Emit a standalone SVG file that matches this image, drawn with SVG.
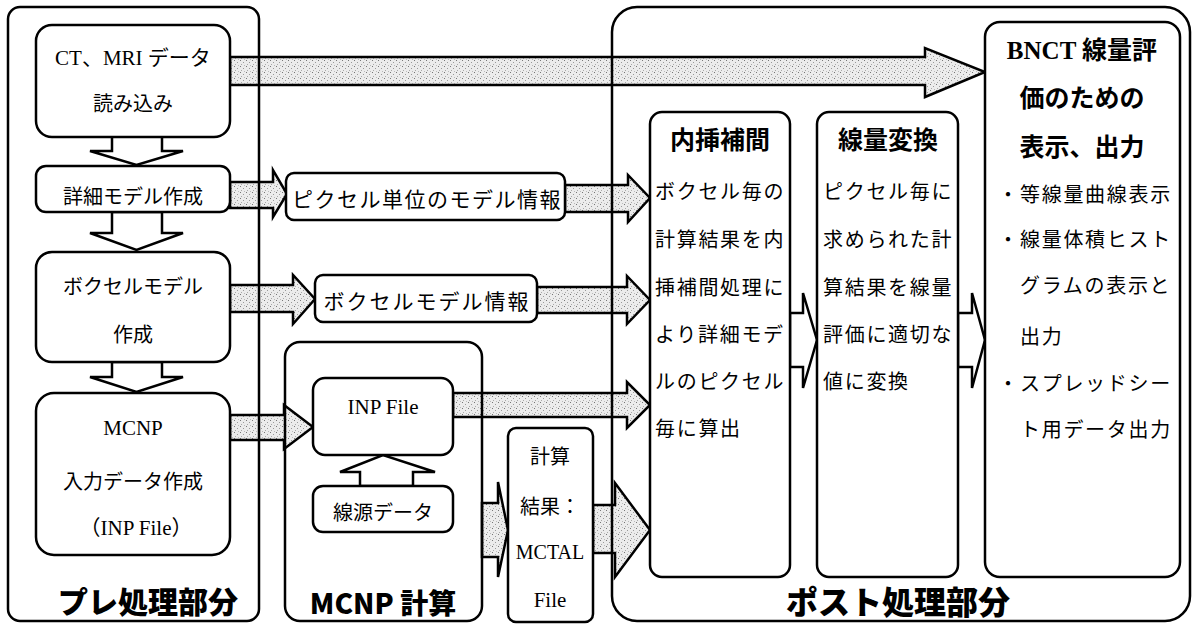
<svg xmlns="http://www.w3.org/2000/svg" width="1193" height="625" viewBox="0 0 1193 625">
<defs>
<pattern id="dots" width="6" height="6" patternUnits="userSpaceOnUse">
<rect width="6" height="6" fill="#ececec"/>
<rect x="0" y="0" width="1" height="1" fill="#777"/>
<rect x="3" y="2" width="1" height="1" fill="#999"/>
<rect x="1" y="4" width="1" height="1" fill="#aaa"/>
<rect x="4" y="5" width="1" height="1" fill="#bbb"/>
</pattern>
<style>
.box{fill:#fff;stroke:#000;stroke-width:2.5}
.grp{fill:none;stroke:#000;stroke-width:2.5}
.ga{fill:url(#dots);stroke:#000;stroke-width:2.5;stroke-linejoin:miter}
.wa{fill:#fff;stroke:#000;stroke-width:2.5;stroke-linejoin:miter}
.t{font-family:"Noto Sans CJK JP",sans-serif;font-size:20px;fill:#000;dominant-baseline:central}
.s{font-family:"Liberation Serif","Noto Sans CJK JP",serif;font-size:21px;fill:#000;dominant-baseline:central}
.c{text-anchor:middle}
.r{letter-spacing:1.7px}
.h{font-family:"Liberation Serif","Noto Sans CJK JP",serif;font-weight:bold;font-size:25px;fill:#000;dominant-baseline:central;text-anchor:middle}
.lbl{font-family:"Noto Sans CJK JP",sans-serif;font-weight:900;font-size:30px;fill:#000;text-anchor:middle;dominant-baseline:central}
</style>
</defs>
<rect width="1193" height="625" fill="#fff"/>

<g id="connectors">
<path class="ga" d="M230 57 H925 V48 L985 72 L925 97 V85 H230 Z"/>
<path class="ga" d="M230 182 H273 V170 L287 194 L273 217 V208 H230 Z"/>
<path class="ga" d="M565 185 H628 V175 L650 198 L628 222 V212 H565 Z"/>
<path class="ga" d="M230 285 H293 V275 L315 299 L293 324 V312 H230 Z"/>
<path class="ga" d="M537 287 H627 V276 L650 300 L627 324 V313 H537 Z"/>
<path class="ga" d="M230 415 H284 V405 L313 427 L284 449 V440 H230 Z"/>
<path class="ga" d="M453 393 H627 V382 L650 405 L627 428 V417 H453 Z"/>
<path class="ga" d="M482 503 H498 V482 L508 530 L498 577 V557 H482 Z"/>
<path class="ga" d="M593 505 H615 V483 L650 530 L615 577 V553 H593 Z"/>
<path class="wa" d="M112 136 V151 H90 L136.5 165 L183 151 H162 V136 Z"/>
<path class="wa" d="M112 212 V233 H90 L136.5 250 L183 233 H162 V212 Z"/>
<path class="wa" d="M112 362 V377 H90 L136.5 392 L183 377 H162 V362 Z"/>
<path class="wa" d="M360 486 V472 H340 L383 455 L435 472 H413 V486 Z"/>
<path class="wa" d="M790 313 H803 V293 L817 340 L803 388 V367 H790 Z"/>
<path class="wa" d="M958 313 H972 V293 L985 340 L972 388 V367 H958 Z"/>
</g>

<g id="pre-group">
<rect class="grp" x="8" y="7" width="251" height="614" rx="12"/>
<text class="lbl" x="148" y="600">プレ処理部分</text>
</g>
<g id="mcnp-group">
<rect class="grp" x="285" y="342" width="197" height="279" rx="15"/>
<text class="lbl" x="383" y="602" style="font-size:28px">MCNP 計算</text>
</g>
<g id="post-group">
<rect class="grp" x="612" y="7" width="578" height="614" rx="25"/>
<text class="lbl" x="898" y="600" style="font-size:32px">ポスト処理部分</text>
</g>

<g id="n-ct">
<rect class="box" x="36" y="25" width="194" height="112" rx="16"/>
<text class="s c" x="133" y="58">CT、MRI データ</text>
<text class="t c" x="133" y="102">読み込み</text>
</g>
<g id="n-detail">
<rect class="box" x="36" y="166" width="194" height="46" rx="10"/>
<text class="t c" x="133" y="195">詳細モデル作成</text>
</g>
<g id="n-voxel">
<rect class="box" x="36" y="252" width="194" height="110" rx="16"/>
<text class="t c" x="133" y="285">ボクセルモデル</text>
<text class="t c" x="133" y="333">作成</text>
</g>
<g id="n-mcnpin">
<rect class="box" x="36" y="393" width="194" height="162" rx="18"/>
<text class="s c" x="133" y="428">MCNP</text>
<text class="t c" x="133" y="480">入力データ作成</text>
<text class="s c" x="136" y="528">（INP File）</text>
</g>
<g id="n-pixinfo">
<rect class="box" x="286" y="173" width="279" height="47" rx="8"/>
<text class="t c" x="427" y="198" style="font-size:21px;letter-spacing:1.5px">ピクセル単位のモデル情報</text>
</g>
<g id="n-voxinfo">
<rect class="box" x="315" y="275" width="222" height="47" rx="8"/>
<text class="t c" x="427" y="300" style="font-size:21px;letter-spacing:2px">ボクセルモデル情報</text>
</g>
<g id="n-inp">
<rect class="box" x="313" y="378" width="140" height="77" rx="12"/>
<text class="s c" x="383" y="407">INP File</text>
</g>
<g id="n-src">
<rect class="box" x="313" y="486" width="140" height="46" rx="10"/>
<text class="t c" x="383" y="511">線源データ</text>
</g>
<g id="n-result">
<rect class="box" x="508" y="428" width="85" height="194" rx="8"/>
<text class="t c" x="550" y="455">計算</text>
<text class="t c" x="550" y="505">結果：</text>
<text class="s c" x="550" y="552" style="font-size:20px">MCTAL</text>
<text class="s c" x="550" y="600">File</text>
</g>
<g id="n-interp">
<rect class="box" x="650" y="112" width="140" height="465" rx="12"/>
<text class="h" x="720" y="140">内挿補間</text>
<text class="t r" x="655" y="190">ボクセル毎の</text>
<text class="t r" x="655" y="238">計算結果を内</text>
<text class="t r" x="655" y="286">挿補間処理に</text>
<text class="t r" x="655" y="333">より詳細モデ</text>
<text class="t r" x="655" y="380">ルのピクセル</text>
<text class="t r" x="655" y="427">毎に算出</text>
</g>
<g id="n-conv">
<rect class="box" x="817" y="112" width="141" height="465" rx="12"/>
<text class="h" x="888" y="140">線量変換</text>
<text class="t r" x="823" y="190">ピクセル毎に</text>
<text class="t r" x="823" y="238">求められた計</text>
<text class="t r" x="823" y="286">算結果を線量</text>
<text class="t r" x="823" y="333">評価に適切な</text>
<text class="t r" x="823" y="380">値に変換</text>
</g>
<g id="n-bnct">
<rect class="box" x="985" y="22" width="195" height="555" rx="15"/>
<text class="h" x="1082" y="50" style="font-size:25px">BNCT 線量評</text>
<text class="h" x="1082" y="98" style="font-size:25px">価のための</text>
<text class="h" x="1082" y="147" style="font-size:25px">表示、出力</text>
<text class="t" x="998" y="193">・</text>
<text class="t r" x="1020" y="193">等線量曲線表示</text>
<text class="t" x="998" y="238">・</text>
<text class="t r" x="1020" y="238">線量体積ヒスト</text>
<text class="t r" x="1020" y="284">グラムの表示と</text>
<text class="t r" x="1020" y="335">出力</text>
<text class="t" x="998" y="382">・</text>
<text class="t r" x="1020" y="382">スプレッドシー</text>
<text class="t r" x="1020" y="428">ト用データ出力</text>
</g>
</svg>
